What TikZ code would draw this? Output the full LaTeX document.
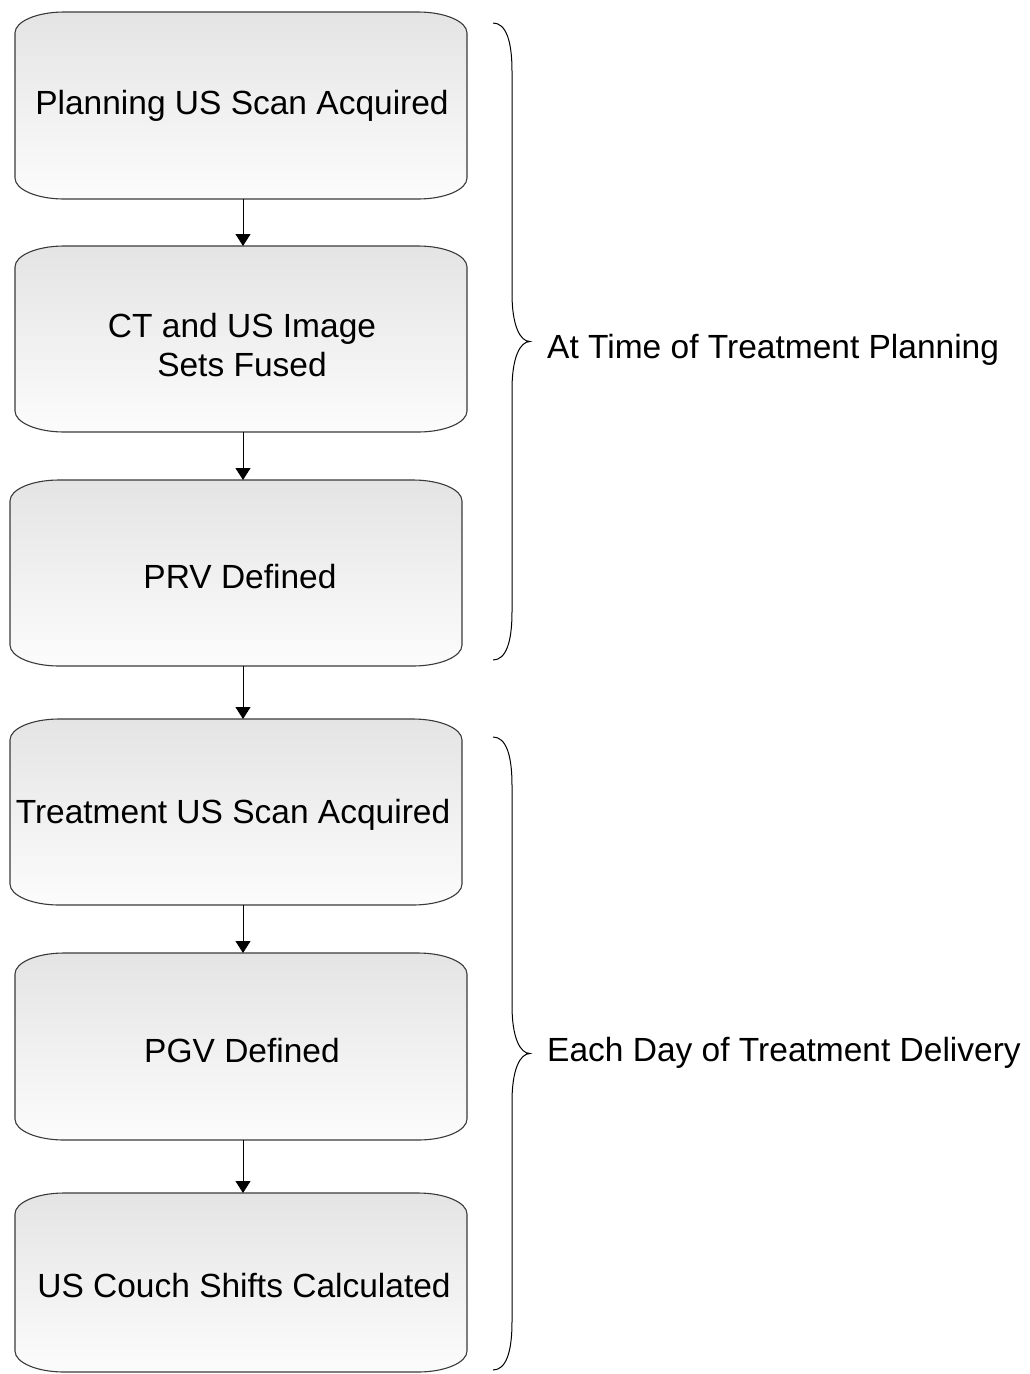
\documentclass[tikz,border=0pt]{standalone}
\usepackage{fontspec}
\setmainfont{Liberation Sans}
\usetikzlibrary{arrows.meta,backgrounds}

\definecolor{boxedge}{RGB}{58,58,58}
\definecolor{boxtop}{RGB}{228,228,228}
\definecolor{boxbottom}{RGB}{252,252,252}

\tikzset{
  stepbox/.style={draw=none, inner sep=0pt, outer sep=0pt,
    minimum width=452pt},
  steptext/.style={inner sep=0pt, align=center,
    font=\fontsize{33.5}{38.5}\selectfont},
  boxshape/.style={draw=boxedge, line width=1.1pt,
    top color=boxtop, bottom color=boxbottom},
  flowarrow/.style={draw=black, line width=1pt,
    -{Triangle[width=15pt,length=12pt]}},
  bracestyle/.style={draw=black, line width=1pt},
  sidelabel/.style={anchor=west, inner sep=0pt,
    font=\fontsize{33.5}{38.5}\selectfont}
}

% outline of a flow box: flat top and bottom, elliptical corners
\newcommand\flowoutline[1]{%
  \path[boxshape]
    ([yshift=-21pt]#1.north west)
    -- ([yshift=21pt]#1.south west)
    arc[start angle=180, end angle=270, x radius=49pt, y radius=21pt]
    -- ([xshift=-49pt]#1.south east)
    arc[start angle=270, end angle=360, x radius=49pt, y radius=21pt]
    -- ([yshift=-21pt]#1.north east)
    arc[start angle=0, end angle=90, x radius=49pt, y radius=21pt]
    -- ([xshift=49pt]#1.north west)
    arc[start angle=90, end angle=180, x radius=49pt, y radius=21pt]
    -- cycle;}

% curly brace from top y to bottom y, opening to the left
\newcommand\sidebrace[2]{%
  \pgfmathsetmacro\bmid{(#1+#2)/2}%
  \draw[bracestyle]
    (493,#1) .. controls (506,#1) and (512,#1+18) .. (512,#1+48)
    -- (512,\bmid-48) .. controls (512,\bmid-16) and (520,\bmid) .. (530,\bmid)
    .. controls (520,\bmid) and (512,\bmid+16) .. (512,\bmid+48)
    -- (512,#2-48) .. controls (512,#2-18) and (506,#2) .. (493,#2);}

\begin{document}
\begin{tikzpicture}[x=1pt, y=-1pt]
  \useasboundingbox (0,0) rectangle (1029,1374);

  % flow step frames
  \node[stepbox, minimum height=187pt] (b1) at (241,105.5) {};
  \node[stepbox, minimum height=186pt] (b2) at (241,339) {};
  \node[stepbox, minimum height=186pt] (b3) at (236,573) {};
  \node[stepbox, minimum height=186pt] (b4) at (236,812) {};
  \node[stepbox, minimum height=187pt] (b5) at (241,1046.5) {};
  \node[stepbox, minimum height=179pt] (b6) at (241,1282.5) {};

  \begin{scope}[on background layer]
    \flowoutline{b1}
    \flowoutline{b2}
    \flowoutline{b3}
    \flowoutline{b4}
    \flowoutline{b5}
    \flowoutline{b6}
  \end{scope}

  % step captions
  \node[steptext] (t1) at (242,106) {Planning US Scan Acquired};
  \node[steptext] (t2) at (242,345) {CT and US Image\\Sets Fused};
  \node[steptext] (t3) at (240,577) {PRV Defined};
  \node[steptext] (t4) at (233,815) {Treatment US Scan Acquired};
  \node[steptext] (t5) at (242,1051) {PGV Defined};
  \node[steptext] (t6) at (244,1286) {US Couch Shifts Calculated};

  % connectors along a common axis
  \coordinate (axis) at (243,0);
  \draw[flowarrow] (b1.south -| axis) -- (b2.north -| axis);
  \draw[flowarrow] (b2.south -| axis) -- (b3.north -| axis);
  \draw[flowarrow] (b3.south -| axis) -- (b4.north -| axis);
  \draw[flowarrow] (b4.south -| axis) -- (b5.north -| axis);
  \draw[flowarrow] (b5.south -| axis) -- (b6.north -| axis);

  % phase braces and labels
  \sidebrace{23}{660}
  \sidebrace{737}{1370}
  \node[sidelabel] (p1) at (547,350) {At Time of Treatment Planning};
  \node[sidelabel] (p2) at (547,1053) {Each Day of Treatment Delivery};
\end{tikzpicture}
\end{document}
